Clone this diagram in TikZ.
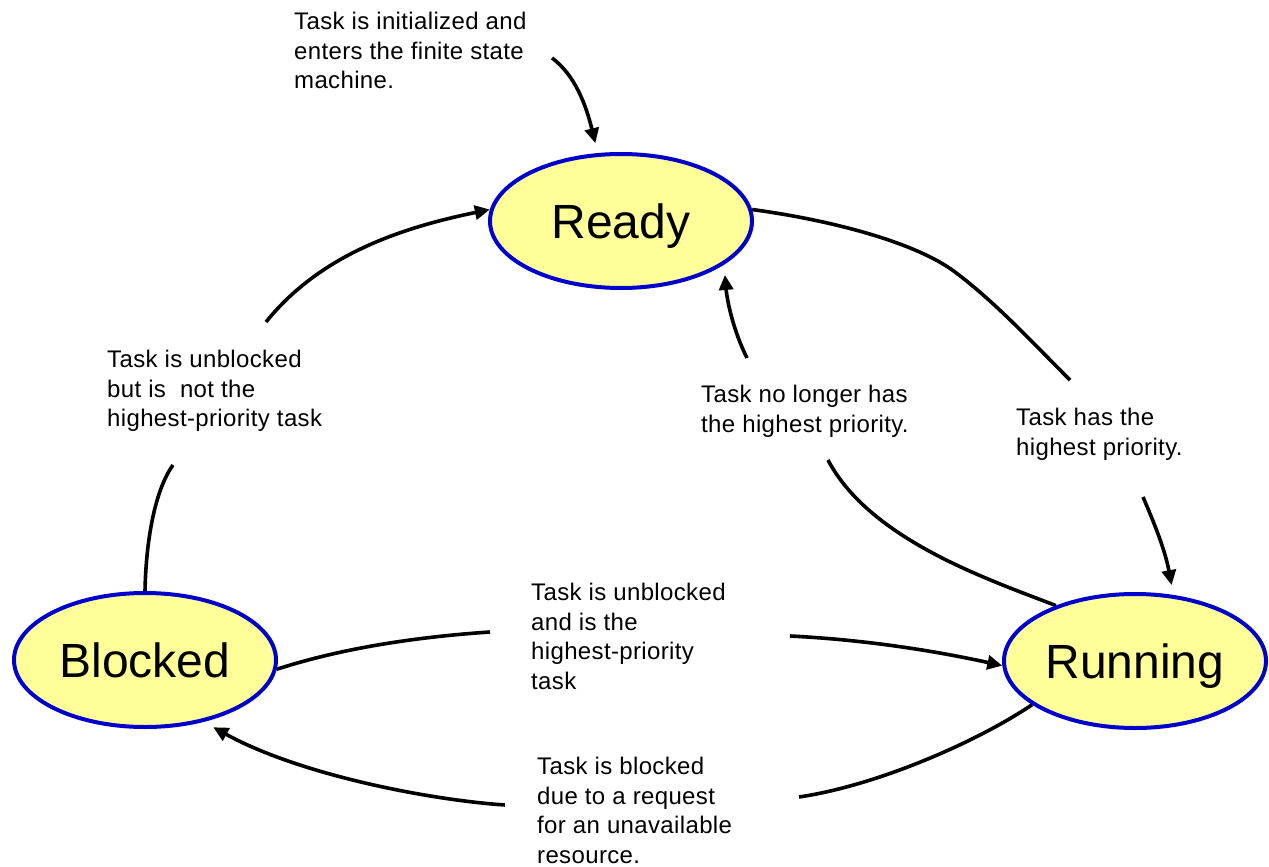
\documentclass[tikz,border=0pt]{standalone}
\usepackage{fontspec}
\setmainfont{Liberation Sans}
\newfontfamily\lblfont[LetterSpace=1.5]{Liberation Sans}
\usetikzlibrary{shapes.geometric,arrows.meta,calc}
\definecolor{stfill}{HTML}{FFFF99}
\definecolor{stborder}{HTML}{0000CC}
\pgfdeclarelayer{bg}
\pgfsetlayers{bg,main}
\tikzset{
  state/.style={ellipse, draw=stborder, fill=stfill, line width=4pt,
    minimum width=262pt, minimum height=134pt, inner sep=0pt,
    font=\fontsize{48}{56}\selectfont, text height=34.4pt, text depth=0pt},
  lbl/.style={anchor=north west, inner sep=0pt, align=left,
    font=\lblfont\fontsize{24}{29.5}\selectfont},
  conn/.style={line width=3.6pt, draw=black},
  arr/.style={conn, -{Triangle[length=15pt,width=14pt]}},
}
\begin{document}
\begin{tikzpicture}[x=1pt,y=-1pt]
\useasboundingbox (0,0) rectangle (1269,867);

% states
\node[state] (Ready) at (621,221) {Ready};
\node[state] (Blocked) at (145,660) {Blocked};
\node[state] (Running) at (1135,661) {Running};

% labels
\node[lbl] (lInit) at (294,12) {Task is initialized and\\enters the finite state\\machine.};
\node[lbl] (lUnbNot) at (107,350) {Task is unblocked\\but is\ \ not the\\highest-priority task};
\node[lbl] (lNoLonger) at (701,385) {Task no longer has\\the highest priority.};
\node[lbl] (lHas) at (1016,408) {Task has the\\highest priority.};
\node[lbl] (lUnbIs) at (531,583) {Task is unblocked\\and is the\\highest-priority\\task};
\node[lbl] (lBlk) at (537,757) {Task is blocked\\due to a request\\for an unavailable\\resource.};

% free ends of broken connectors
\coordinate (i0) at (552,58);
\coordinate (bA) at (173,465);
\coordinate (bB) at (266,322);
\coordinate (rA) at (1070,380);
\coordinate (rB) at (1143,497);
\coordinate (nA) at (828,460);
\coordinate (nB) at (747,358);
\coordinate (uA) at (490,632);
\coordinate (uB) at (790,636);
\coordinate (kA) at (799,797);
\coordinate (kB) at (505,805);

\begin{pgfonlayer}{bg}
% initial
\draw[arr] (i0) .. controls (575,75) and (586,105) .. ($(Ready.110)+(-1,-10)$);
% Blocked -> Ready
\draw[conn] (Blocked.north) .. controls (146,540) and (155,490) .. (bA);
\draw[arr] (bB) .. controls (320,255) and (400,228) .. (Ready.175);
% Ready -> Running
\draw[conn] (Ready.5) .. controls (830,220) and (915,242) .. (955,272)
   .. controls (995,302) and (1030,340) .. (rA);
\draw[arr] (rB) .. controls (1155,525) and (1165,550) .. ($(Running.64)+(4,-9)$);
% Running -> Ready
\draw[conn] (Running.145) .. controls (990,580) and (870,540) .. (nA);
\draw[arr] (nB) .. controls (733,330) and (727,300) .. ($(Ready.336)+(3,9)$);
% Blocked -> Running
\draw[conn] (Blocked.356) .. controls (330,652) and (400,638) .. (uA);
\draw[arr] (uB) .. controls (870,640) and (940,652) .. (Running.182);
% Running -> Blocked
\draw[conn] (Running.203) .. controls (980,740) and (880,785) .. (kA);
\draw[arr] (kB) .. controls (430,800) and (300,775) .. ($(Blocked.315)+(7,6)$);
\end{pgfonlayer}
\end{tikzpicture}
\end{document}
